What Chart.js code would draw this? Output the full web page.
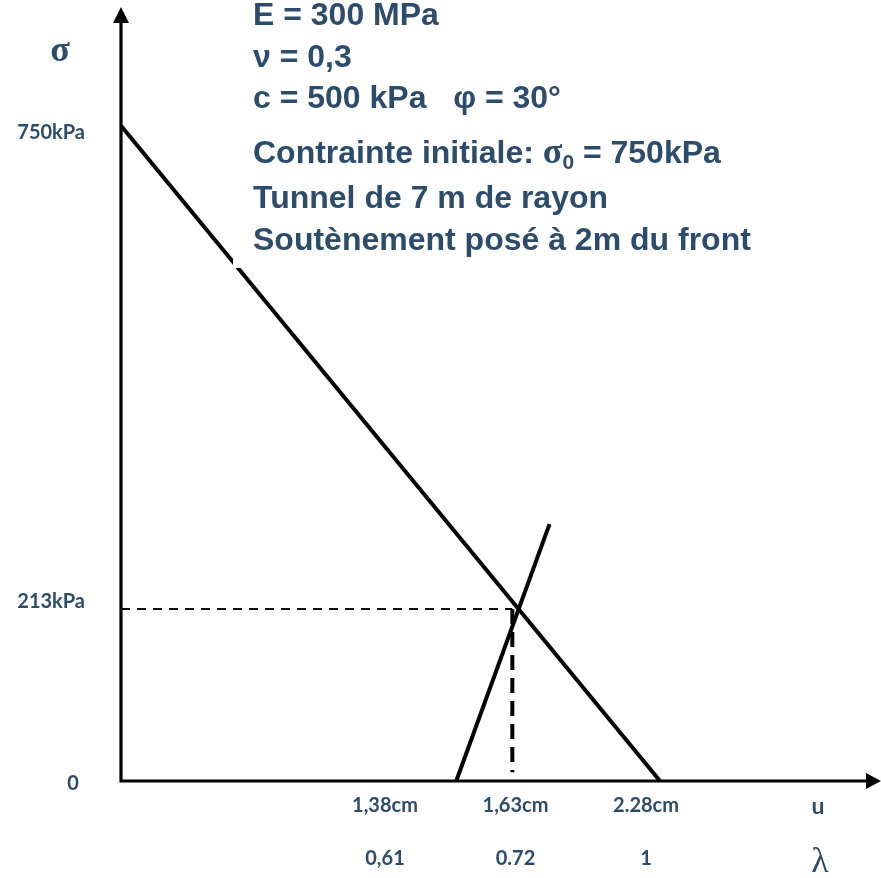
<!DOCTYPE html>
<html lang="fr">
<head>
<meta charset="utf-8">
<title>Convergence - confinement</title>
<script src="https://cdn.jsdelivr.net/npm/chart.js@4"></script>
<style>
  html, body { margin:0; padding:0; background:#fff; }
  #wrap { width:881px; height:878px; position:relative; }
</style>
</head>
<body>
<div id="wrap"><canvas id="chart"></canvas></div>
<script>
// ── Data (λ en abscisse, σ en kPa) ─────────────────────────
const convLambda = [0, 1];          // courbe de convergence du terrain
const convSigma  = [750, 0];
const suppLambda = [0.622, 0.795];  // courbe de confinement du soutènement
const suppSigma  = [0, 294];
const eqLambda   = 0.726;           // point d'équilibre
const eqSigma    = 197;
const eqDashEnd  = 10;              // le pointillé vertical s'arrête avant l'axe

const yTicks      = [750, 213];
const yTickLabels = ['750kPa', '213kPa'];
const xTickU      = ['1,38cm', '1,63cm', '2.28cm'];
const xTickLambda = ['0,61', '0.72', '1'];

const params = [
  'E = 300 MPa',
  'ν = 0,3',
  'c = 500 kPa   φ = 30°',
  null,                              // ligne σ0, dessinée à part
  'Tunnel de 7 m de rayon',
  'Soutènement posé à 2m du front',
];

const C = { ink:'#000', text:'#2d4c6c' };
const TICK_FONT = 'bold 20px Lato';
const PARAM_FONT = 'bold 32px "Liberation Sans"';

const pts = (xs, ys) => xs.map((x, i) => ({ x, y: ys[i] }));

// ── Axes, graduations et texte ─────────────────────────────
const decor = {
  id: 'decor',
  beforeDatasetsDraw(chart) {
    const { ctx, scales:{ x, y } } = chart;
    const x0 = x.getPixelForValue(0), y0 = y.getPixelForValue(0);
    const right = chart.width, top = 7;
    ctx.save();
    ctx.strokeStyle = C.ink; ctx.fillStyle = C.ink; ctx.lineWidth = 3.2;
    ctx.beginPath();
    ctx.moveTo(x0, y0); ctx.lineTo(x0, top + 14);
    ctx.moveTo(x0 - 1.6, y0); ctx.lineTo(right - 14, y0);
    ctx.stroke();
    ctx.beginPath();
    ctx.moveTo(x0, top); ctx.lineTo(x0 - 8, top + 16); ctx.lineTo(x0 + 8, top + 16); ctx.closePath();
    ctx.moveTo(right, y0); ctx.lineTo(right - 15, y0 - 8); ctx.lineTo(right - 15, y0 + 8); ctx.closePath();
    ctx.fill();
    ctx.restore();
  },
  afterDatasetsDraw(chart) {
    const { ctx, scales:{ x, y } } = chart;
    const x0 = x.getPixelForValue(0), y0 = y.getPixelForValue(0);
    ctx.save();

    // cadre blanc du bloc de texte (il coupe un peu la droite)
    ctx.fillStyle = '#fff';
    ctx.fillRect(233, 0, 530, 268);

    ctx.fillStyle = C.text;
    ctx.textBaseline = 'middle';

    // y ticks
    ctx.font = TICK_FONT;
    ctx.textAlign = 'right';
    yTicks.forEach((v, i) => ctx.fillText(yTickLabels[i], x0 - 36, y.getPixelForValue(v) + 7));
    ctx.textAlign = 'center';
    ctx.fillText('0', x0 - 48, y0 + 3);

    // x ticks, two rows (u puis λ), espacés régulièrement
    xTickU.forEach((t, i) => {
      const cx = 385 + i * 130.5;
      ctx.fillText(t, cx, y0 + 25);
      ctx.fillText(xTickLambda[i], cx, y0 + 78);
    });
    ctx.font = 'bold 23px Lato';
    ctx.fillText('u', 818, y0 + 26);

    // axis symbols
    ctx.font = 'bold 36px "Liberation Serif"';
    ctx.fillText('σ', 60, 52);
    ctx.font = '36px "Liberation Serif"';
    ctx.fillText('λ', 820, y0 + 82);

    // paramètres
    ctx.textAlign = 'left';
    ctx.textBaseline = 'alphabetic';
    ctx.font = PARAM_FONT;
    const base = [25, 67, 108, 163, 208, 250];
    params.forEach((line, i) => { if (line) ctx.fillText(line, 253, base[i]); });

    let cx = 253;
    const seg = (t, f, dy = 0) => { ctx.font = f; ctx.fillText(t, cx, base[3] + dy); cx += ctx.measureText(t).width; };
    seg('Contrainte initiale: ', PARAM_FONT);
    seg('σ', 'bold 36px "Liberation Serif"');
    seg('0', 'bold 21px "Liberation Sans"', 6);
    seg(' = 750kPa', PARAM_FONT);
    ctx.restore();
  }
};

new Chart(document.getElementById('chart'), {
  type: 'scatter',
  data: {
    datasets: [
      { data: pts(convLambda, convSigma), showLine:true, borderColor:C.ink, borderWidth:4, pointRadius:0, clip:false },
      { data: pts(suppLambda, suppSigma), showLine:true, borderColor:C.ink, borderWidth:4, pointRadius:0, clip:false },
      { data: [{ x:0, y:eqSigma }, { x:eqLambda, y:eqSigma }], showLine:true, borderColor:C.ink, borderWidth:2,
        borderDash:[9,7], pointRadius:0, clip:false },
      { data: [{ x:eqLambda, y:eqSigma }, { x:eqLambda, y:eqDashEnd }], showLine:true, borderColor:C.ink,
        borderWidth:4, borderDash:[15,8], pointRadius:0, clip:false },
    ]
  },
  options: {
    responsive: true, maintainAspectRatio: false, animation: false,
    layout: { padding: { left:121, right:0, top:7, bottom:97 } },
    plugins: { legend:{ display:false }, tooltip:{ enabled:false } },
    scales: {
      x: { type:'linear', min:0, max:1.41, display:false },
      y: { type:'linear', min:0, max:886, display:false },
    },
  },
  plugins: [decor],
});
</script>
</body>
</html>
